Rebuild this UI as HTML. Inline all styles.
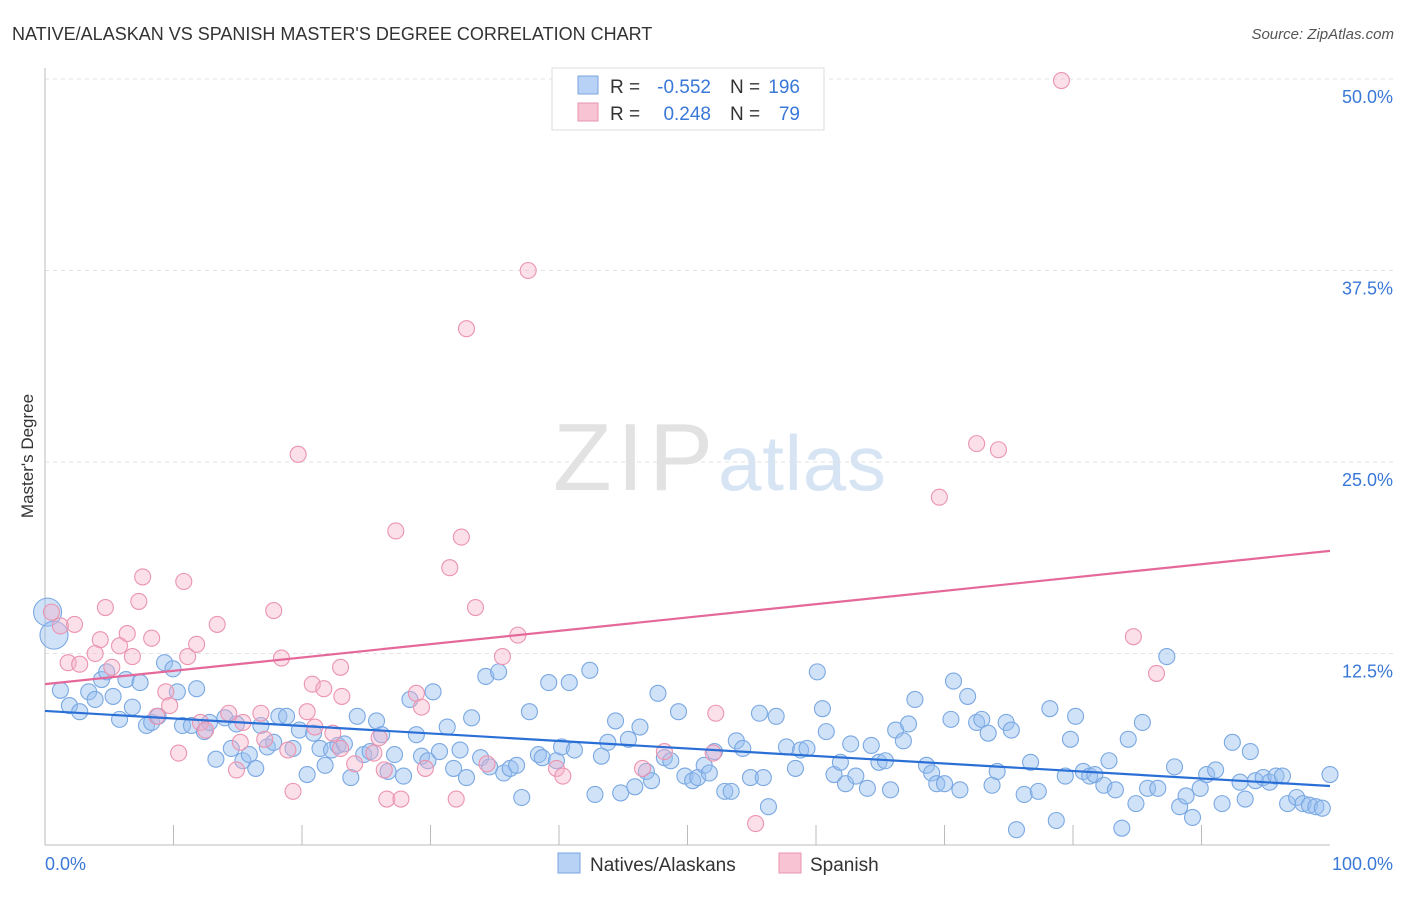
<!DOCTYPE html>
<html><head><meta charset="utf-8"><style>
body{margin:0;background:#fff;font-family:"Liberation Sans",sans-serif}
svg text{font-family:"Liberation Sans",sans-serif}
</style></head><body>
<svg id="chart" width="1406" height="892">
<text x="12" y="40" font-size="18" fill="#333">NATIVE/ALASKAN VS SPANISH MASTER'S DEGREE CORRELATION CHART</text>
<text x="1394" y="39" font-size="15" fill="#555" font-style="italic" text-anchor="end">Source: ZipAtlas.com</text>
<text x="33" y="456" font-size="17" fill="#333" text-anchor="middle" transform="rotate(-90 33 456)">Master's Degree</text>
<g><text x="553" y="490" font-size="96" fill="#e2e2e2" font-family="Liberation Serif,serif" textLength="160">ZIP</text><text x="718" y="490" font-size="78" fill="#d6e4f4" textLength="168">atlas</text></g>
<g id="grid"></g><g id="pts"></g><g id="lines"></g>
<g>
<rect x="552" y="68" width="272" height="62" fill="#fff" stroke="#ddd"/>
<rect x="578" y="76" width="20" height="18" fill="#b7d2f5" stroke="#7aa6e0"/>
<rect x="578" y="103" width="20" height="18" fill="#f8c4d4" stroke="#e996b0"/>
<text x="610" y="93" font-size="19" fill="#333">R =</text>
<text x="711" y="93" font-size="19" fill="#3a78d8" text-anchor="end">-0.552</text>
<text x="730" y="93" font-size="19" fill="#333">N =</text>
<text x="800" y="93" font-size="19" fill="#3a78d8" text-anchor="end">196</text>
<text x="610" y="120" font-size="19" fill="#333">R =</text>
<text x="711" y="120" font-size="19" fill="#3a78d8" text-anchor="end">0.248</text>
<text x="730" y="120" font-size="19" fill="#333">N =</text>
<text x="800" y="120" font-size="19" fill="#3a78d8" text-anchor="end">79</text>
</g>
<g>
<rect x="558" y="853" width="22" height="20" fill="#b7d2f5" stroke="#7aa6e0"/>
<text x="590" y="871" font-size="19" fill="#333">Natives/Alaskans</text>
<rect x="779" y="853" width="22" height="20" fill="#f8c4d4" stroke="#e996b0"/>
<text x="810" y="871" font-size="19" fill="#333">Spanish</text>
</g>
</svg>
<script>
const yTicks=[12.5,25,37.5,50];
const xTickLabels=["0.0%","100.0%"];
const blueX=[0.2,0.7,1.2,1.9,2.7,3.4,3.9,4.4,4.8,5.3,5.8,6.3,6.8,7.4,7.9,8.3,8.8,9.3,9.96,10.3,10.7,11.4,11.8,12.4,12.8,13.3,14.0,14.5,14.9,15.4,15.9,16.4,16.8,17.3,17.8,18.2,18.8,19.3,19.8,20.4,20.9,21.4,21.8,22.3,22.8,23.3,23.8,24.3,24.8,25.3,25.8,26.2,26.7,27.2,27.9,28.4,28.9,29.3,29.8,30.2,30.7,31.3,31.8,32.3,32.8,33.2,33.9,34.3,34.6,35.3,35.7,36.2,36.7,37.1,37.7,38.4,38.7,39.2,39.8,40.2,40.8,41.2,42.4,42.8,43.3,43.8,44.4,44.8,45.4,45.9,46.3,46.8,47.2,47.7,48.2,48.7,49.3,49.8,50.4,50.8,51.3,51.7,52.1,52.9,53.4,53.8,54.3,54.9,55.6,55.9,56.3,56.9,57.7,58.4,58.8,59.3,60.1,60.5,60.8,61.4,61.9,62.3,62.7,63.1,64.0,64.3,64.9,65.4,65.8,66.2,66.8,67.2,67.7,68.6,69.0,69.4,70.0,70.5,70.7,71.2,71.8,72.5,72.9,73.4,73.7,74.1,74.8,75.2,75.6,76.2,76.7,77.3,78.2,78.7,79.4,79.8,80.2,80.8,81.3,81.7,82.4,82.8,83.3,83.8,84.3,84.9,85.4,85.8,86.6,87.3,87.9,88.3,88.8,89.3,89.9,90.4,91.1,91.6,92.4,93.0,93.4,93.8,94.2,94.8,95.3,95.8,96.3,96.7,97.4,97.9,98.4,98.9,99.4,100];
const blueY=[15.2,13.7,10.1,9.1,8.7,10.0,9.5,10.8,11.3,9.7,8.2,10.8,9.0,10.6,7.8,8.0,8.4,11.9,11.5,10.0,7.8,7.8,10.2,7.4,8.0,5.6,8.3,6.3,7.9,5.5,5.9,5.0,7.8,6.4,6.7,8.4,8.4,6.3,7.5,4.6,7.3,6.3,5.2,6.2,6.5,6.6,4.4,8.4,5.9,6.1,8.1,7.2,4.8,5.9,4.5,9.5,7.2,5.8,5.5,10.0,6.1,7.7,5.0,6.2,4.4,8.3,5.7,11.0,5.1,11.3,4.7,5.0,5.2,3.1,8.7,5.9,5.7,10.6,5.5,6.4,10.6,6.2,11.4,3.3,5.8,6.7,8.1,3.4,6.9,3.8,7.7,4.8,4.2,9.9,5.7,5.5,8.7,4.5,4.2,4.4,5.2,4.7,6.1,3.5,3.5,6.8,6.3,4.4,8.6,4.4,2.5,8.4,6.4,5.0,6.2,6.3,11.3,8.9,7.4,4.6,5.4,4.0,6.6,4.5,3.7,6.5,5.4,5.5,3.6,7.5,6.8,7.9,9.5,5.2,4.7,4.0,4.0,8.2,10.7,3.6,9.7,8.0,8.2,7.3,3.9,4.8,8.0,7.5,1.0,3.3,5.4,3.5,8.9,1.6,4.5,6.9,8.4,4.8,4.5,4.6,3.9,5.5,3.6,1.1,6.9,2.7,8.0,3.7,3.7,12.3,5.1,2.5,3.2,1.8,3.7,4.6,4.9,2.7,6.7,4.1,3.0,6.1,4.2,4.4,4.1,4.5,4.5,2.7,3.1,2.7,2.6,2.5,2.4,4.6];
const pinkX=[79.1,37.6,32.8,72.5,74.2,19.7,69.6,27.3,32.4,31.5,7.6,10.8,7.3,4.7,17.8,33.5,0.5,1.2,2.3,13.4,6.4,36.8,84.7,8.3,4.3,11.8,5.8,3.9,6.8,11.1,18.4,35.6,1.8,2.7,5.2,23.0,86.5,20.8,21.7,9.4,23.1,28.9,29.3,9.7,8.7,14.3,20.4,16.8,52.2,12.1,15.4,21.0,12.5,22.4,26.0,17.1,15.2,23.0,10.4,18.9,25.6,52.0,48.2,24.1,34.4,26.4,29.6,14.9,46.5,39.8,40.3,19.3,26.6,27.7,32.0,55.3];
const pinkY=[49.9,37.5,33.7,26.2,25.8,25.5,22.7,20.5,20.1,18.1,17.5,17.2,15.9,15.5,15.3,15.5,15.2,14.3,14.4,14.4,13.8,13.7,13.6,13.5,13.4,13.1,13.0,12.5,12.3,12.3,12.2,12.3,11.9,11.8,11.6,11.6,11.2,10.5,10.2,10.0,9.7,9.9,9.0,9.1,8.4,8.6,8.7,8.6,8.6,8.0,8.0,7.7,7.5,7.3,7.0,6.9,6.7,6.3,6.0,6.2,6.0,6.0,6.1,5.3,5.3,4.9,5.0,4.9,5.0,5.0,4.5,3.5,3.0,3.0,3.0,1.4];
const blueTrend=[8.75,3.85];
const pinkTrend=[10.5,19.2];
const NS="http://www.w3.org/2000/svg";
const X0=45,X1=1330,Y0=845,PX=(Y0-79)/50;
const xs=v=>X0+(X1-X0)*v/100, ys=v=>Y0-v*PX;
function mk(tag,attrs,parent){const e=document.createElementNS(NS,tag);for(const k in attrs)e.setAttribute(k,attrs[k]);parent.appendChild(e);return e;}
const grid=document.getElementById('grid');
yTicks.forEach(t=>{
 const l=mk('line',{x1:X0,x2:1394,y1:ys(t),y2:ys(t),stroke:'#e2e2e2','stroke-dasharray':'4 4'},grid);
 
 
 const tx=mk('text',{x:1393,y:ys(t)+24,'font-size':18,fill:'#3a78d8','text-anchor':'end'},grid);
 tx.textContent=t.toFixed(1)+'%';
 
 
});
const ax=mk('line',{x1:X0,x2:X1,y1:Y0,y2:Y0,stroke:'#bbb'},grid);


const ay=mk('line',{x1:X0,x2:X0,y1:68,y2:Y0,stroke:'#bbb'},grid);


for(let i=1;i<10;i++){const t=mk('line',{x1:xs(i*10),x2:xs(i*10),y1:Y0-20,y2:Y0,stroke:'#bbb'},grid);
 
 }
const xl0=mk('text',{x:45,y:870,'font-size':18,fill:'#3a78d8'},grid);xl0.textContent=xTickLabels[0];


const xl1=mk('text',{x:1393,y:870,'font-size':18,fill:'#3a78d8','text-anchor':'end'},grid);xl1.textContent=xTickLabels[1];


const pts=document.getElementById('pts');
blueX.forEach((x,i)=>{const big=i<2;const c=mk('circle',{cx:xs(x),cy:ys(blueY[i]),r:big?14:8,fill:'rgba(150,190,240,0.45)',stroke:'#7aa8e2','stroke-width':1.1},pts);
 
 });
pinkX.forEach((x,i)=>{const c=mk('circle',{cx:xs(x),cy:ys(pinkY[i]),r:8,fill:'rgba(245,175,200,0.4)',stroke:'#eb94b0','stroke-width':1.1},pts);
 
 });
const lines=document.getElementById('lines');
const bl=mk('line',{x1:xs(0),y1:ys(blueTrend[0]),x2:xs(100),y2:ys(blueTrend[1]),stroke:'#2a6fd6','stroke-width':2.2},lines);


const pl=mk('line',{x1:xs(0),y1:ys(pinkTrend[0]),x2:xs(100),y2:ys(pinkTrend[1]),stroke:'#e4699a','stroke-width':2.2},lines);


</script>
</body></html>
